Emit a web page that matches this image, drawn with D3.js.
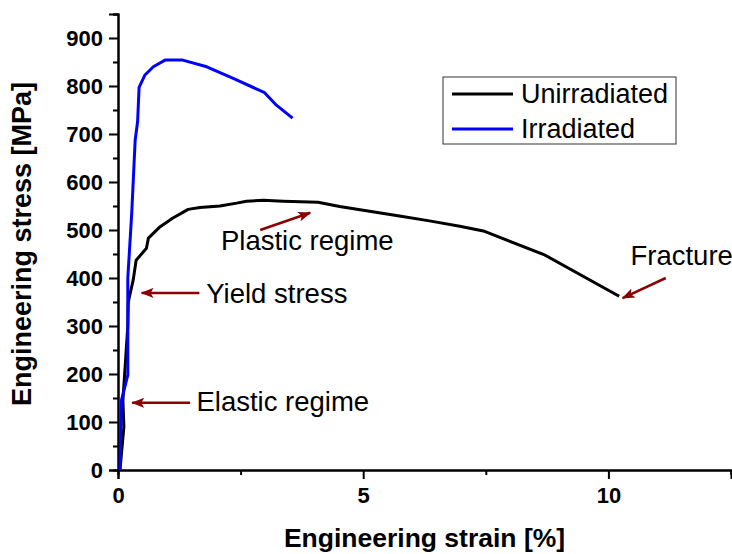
<!DOCTYPE html>
<html>
<head>
<meta charset="utf-8">
<script src="https://cdn.jsdelivr.net/npm/d3@7"></script>
<style>
  html, body { margin: 0; padding: 0; background: #fff; }
  svg { display: block; font-family: Arial, "Liberation Sans", sans-serif; }
</style>
</head>
<body>
<svg id="chart" width="732" height="554"></svg>
<script>
// Engineering stress–strain curves (strain in %, stress in MPa)
const unirradiatedStrain = [0.04, 0.12, 0.10, 0.20, 0.21, 0.31, 0.37, 0.58, 0.62, 0.86, 1.12, 1.43, 1.67, 2.08, 2.42, 2.62, 2.96, 3.37, 4.08, 4.52, 5.00, 5.74, 6.35, 6.97, 7.45, 8.70, 10.22];
const unirradiatedStress = [0, 90, 145, 300, 350, 396, 437, 462, 483, 507, 525, 543, 547, 550, 556, 560, 562, 560, 558, 549, 541, 529, 519, 508, 498, 448, 362];

const irradiatedStrain = [0.04, 0.07, 0.20, 0.20, 0.28, 0.35, 0.40, 0.43, 0.55, 0.72, 0.96, 1.32, 1.81, 2.35, 2.99, 3.23, 3.56];
const irradiatedStress = [0, 145, 198, 400, 535, 687, 726, 797, 823, 840, 854, 854, 840, 816, 786, 760, 733];

const seriesNames = ["Unirradiated", "Irradiated"];
const seriesColors = ["#000000", "#0000ff"];

const xTickValues = [0, 5, 10];
const xMinorTicks = [2.5, 7.5, 12.5];
const yTickValues = [0, 100, 200, 300, 400, 500, 600, 700, 800, 900];
const yMinorTicks = [50, 150, 250, 350, 450, 550, 650, 750, 850, 950];

// Annotations: label, text anchor point, arrow tail and arrow head (data units)
const noteLabels = ["Elastic regime", "Yield stress", "Plastic regime", "Fracture"];
const noteTextX = [1.60, 1.80, 2.10, 10.45];
const noteTextY = [144, 368, 478, 447];
const arrowFromX = [1.47, 1.66, 2.90, 11.17];
const arrowFromY = [140, 369, 500, 400];
const arrowToX = [0.29, 0.48, 3.92, 10.29];
const arrowToY = [140, 369, 536, 358];

const svg = d3.select("#chart");
const margin = { left: 118, right: 1, top: 14, bottom: 84 };
const W = 732, H = 554;

const x = d3.scaleLinear().domain([0, 12.5]).range([margin.left, W - margin.right]);
const y = d3.scaleLinear().domain([0, 950]).range([H - margin.bottom, margin.top]);

const axisColor = "#000";

// Minor ticks
svg.append("g").attr("transform", `translate(0,${y(0)})`)
  .call(d3.axisBottom(x).tickValues(xMinorTicks).tickSize(5).tickFormat(""));
svg.append("g").attr("transform", `translate(0,${y(0)})`)
  .call(d3.axisBottom(x).tickValues(xTickValues).tickSize(9).tickPadding(8).tickFormat(d3.format("d")));

svg.append("g").attr("transform", `translate(${x(0)},0)`)
  .call(d3.axisLeft(y).tickValues(yMinorTicks).tickSize(5).tickFormat(""));
const yMajor = svg.append("g").attr("transform", `translate(${x(0)},0)`)
  .call(d3.axisLeft(y).tickValues(yTickValues).tickSize(9).tickPadding(6).tickFormat(d3.format("d")));

svg.selectAll(".domain").attr("stroke", axisColor).attr("stroke-width", 2);
svg.selectAll(".tick line").attr("stroke", axisColor).attr("stroke-width", 2);
svg.selectAll(".tick text")
  .attr("fill", "#000")
  .style("font-size", "22px")
  .style("font-weight", "bold")
  .style("font-family", "Arial, 'Liberation Sans', sans-serif");
yMajor.selectAll(".tick text").attr("dy", "0.36em");

// Axis titles
svg.append("text")
  .attr("x", (x(0) + x(12.5)) / 2)
  .attr("y", 547)
  .attr("text-anchor", "middle")
  .style("font-size", "26.5px")
  .style("font-weight", "bold")
  .text("Engineering strain [%]");

svg.append("text")
  .attr("transform", `translate(31,244) rotate(-90)`)
  .attr("text-anchor", "middle")
  .style("font-size", "27px")
  .style("font-weight", "bold")
  .text("Engineering stress [MPa]");

// Curves
const line = d3.line().x(d => x(d[0])).y(d => y(d[1]));
const unirradiated = d3.zip(unirradiatedStrain, unirradiatedStress);
const irradiated = d3.zip(irradiatedStrain, irradiatedStress);

svg.append("path").datum(unirradiated)
  .attr("d", line).attr("fill", "none")
  .attr("stroke", seriesColors[0]).attr("stroke-width", 3)
  .attr("stroke-linejoin", "round");
svg.append("path").datum(irradiated)
  .attr("d", line).attr("fill", "none")
  .attr("stroke", seriesColors[1]).attr("stroke-width", 3)
  .attr("stroke-linejoin", "round");

// Arrow marker
const arrowColor = "#8b0000";
svg.append("defs").append("marker")
  .attr("id", "arrowhead")
  .attr("viewBox", "0 0 13 10")
  .attr("refX", 12).attr("refY", 5)
  .attr("markerWidth", 13).attr("markerHeight", 10)
  .attr("markerUnits", "userSpaceOnUse")
  .attr("orient", "auto")
  .append("path").attr("d", "M0,0 L13,5 L0,10 L3,5 Z").attr("fill", arrowColor);

const notes = svg.append("g");
noteLabels.forEach((label, i) => {
  notes.append("line")
    .attr("x1", x(arrowFromX[i])).attr("y1", y(arrowFromY[i]))
    .attr("x2", x(arrowToX[i])).attr("y2", y(arrowToY[i]))
    .attr("stroke", arrowColor).attr("stroke-width", 2.5)
    .attr("marker-end", "url(#arrowhead)");
  notes.append("text")
    .attr("x", x(noteTextX[i])).attr("y", y(noteTextY[i]))
    .attr("dy", "0.35em")
    .style("font-size", "27.5px")
    .attr("fill", "#000")
    .text(label);
});

// Legend
const legend = svg.append("g").attr("transform", "translate(443,77)");
legend.append("rect")
  .attr("width", 233).attr("height", 67)
  .attr("fill", "#fff").attr("stroke", "#333").attr("stroke-width", 1);
seriesNames.forEach((name, i) => {
  const ly = 17 + i * 35;
  legend.append("line")
    .attr("x1", 9).attr("x2", 70).attr("y1", ly).attr("y2", ly)
    .attr("stroke", seriesColors[i]).attr("stroke-width", 3);
  legend.append("text")
    .attr("x", 78).attr("y", ly).attr("dy", "0.35em")
    .style("font-size", "27px")
    .text(name);
});
</script>
</body>
</html>
